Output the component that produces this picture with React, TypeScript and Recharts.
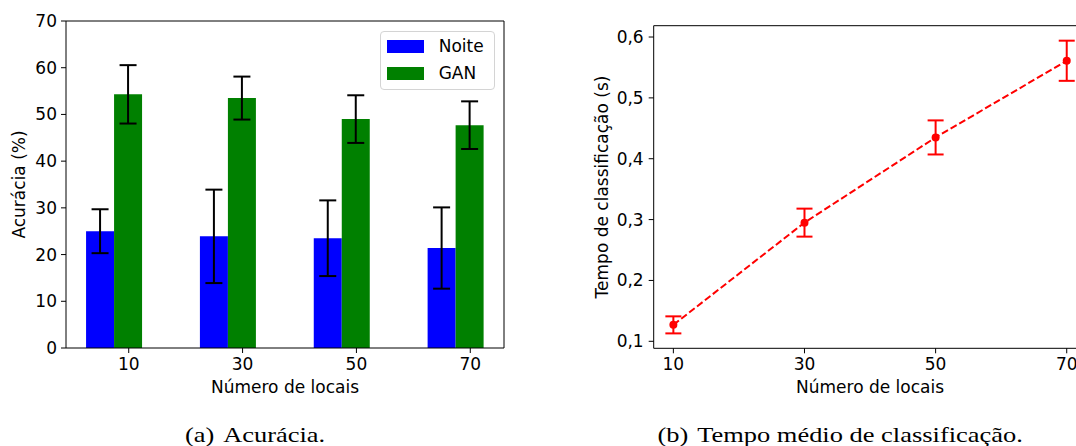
import React from 'react';
import {
  BarChart,
  Bar,
  XAxis,
  YAxis,
  ErrorBar,
  Legend,
  LineChart,
  Line,
  Label,
} from 'recharts';

// ---- data ----
const locais = [10, 30, 50, 70];
const seriesNames = ['Noite', 'GAN'];
const noite = [25.0, 23.9, 23.5, 21.4];
const noiteErr = [4.7, 10.0, 8.1, 8.7];
const gan = [54.3, 53.5, 49.0, 47.7];
const ganErr = [6.25, 4.6, 5.1, 5.1];
const tempo = [0.127, 0.295, 0.435, 0.561];
const tempoErr = [0.014, 0.023, 0.028, 0.033];
const accTicks = [0, 10, 20, 30, 40, 50, 60, 70];
const tempoTicks = [0.1, 0.2, 0.3, 0.4, 0.5, 0.6];

const accData = locais.map((l, i) => ({
  locais: l,
  noite: noite[i],
  noiteErr: noiteErr[i],
  gan: gan[i],
  ganErr: ganErr[i],
}));
const tempoData = locais.map((l, i) => ({ locais: l, tempo: tempo[i], tempoErr: tempoErr[i] }));

const BLUE = '#0000ff';
const GREEN = '#008000';
const RED = '#ff0000';
const FONT = '"DejaVu Sans", sans-serif';
const SERIF = '"Liberation Serif", "Times New Roman", serif';
const TICK_STYLE = { fill: '#000', fontSize: 17, fontFamily: FONT };
const HALF_BAR = 14.2;

const GanTick = (props: any) => {
  const { x, y, payload } = props;
  const cx = x + HALF_BAR;
  return (
    <g>
      <line x1={cx} x2={cx} y1={y - 10} y2={y - 5} stroke="#000" strokeWidth={1} />
      <text x={cx} y={y} dy="0.71em" textAnchor="middle" fill="#000" fontSize={17} fontFamily={FONT}>
        {payload.value}
      </text>
    </g>
  );
};

const renderLegend = (props: any) => {
  const items = [...(props.payload || [])].sort(
    (a: any, b: any) => seriesNames.indexOf(a.value) - seriesNames.indexOf(b.value)
  );
  return (
    <div
      style={{
        width: 115,
        height: 59,
        boxSizing: 'border-box',
        border: '1px solid #d4d4d4',
        borderRadius: 4,
        background: '#fff',
        padding: '1.5px 0 0 5.7px',
        fontFamily: FONT,
        fontSize: 17,
        color: '#000',
      }}
    >
      {items.map((it: any) => (
        <div key={it.value} style={{ display: 'flex', alignItems: 'center', height: 27 }}>
          <span style={{ display: 'inline-block', width: 37, height: 13, background: it.color }} />
          <span style={{ marginLeft: 15, lineHeight: '17px' }}>{it.value}</span>
        </div>
      ))}
    </div>
  );
};

const fmtComma = (v: number) => v.toFixed(1).replace('.', ',');

const Caption = ({ x, tag, text }: { x: number; tag: string; text: string }) => (
  <g transform={`translate(${x},442.3) scale(1.26,1)`}>
    <text x={0} y={0} fontFamily={SERIF} fontSize={21} fill="#000">
      {tag}
      <tspan dx={7}>{text}</tspan>
    </text>
  </g>
);

export default function App() {
  return (
    <div
      style={{
        position: 'fixed',
        left: 0,
        top: 0,
        width: 1076,
        height: 446,
        overflow: 'hidden',
        background: '#fff',
      }}
    >
      <div style={{ position: 'absolute', left: 0, top: 0 }}>
        <BarChart
          width={520}
          height={446}
          data={accData}
          margin={{ top: 20, right: 15, left: 0, bottom: 48 }}
          barCategoryGap="25%"
          barGap={0}
          style={{ fontFamily: FONT }}
        >
          <XAxis
            dataKey="locais"
            height={50}
            padding={{ left: -8.4, right: -9 }}
            axisLine={{ stroke: '#000', strokeWidth: 1 }}
            tickLine={false}
            tickSize={5}
            tickMargin={5}
            tick={<GanTick />}
            interval={0}
          >
            <Label
              value="Número de locais"
              position="insideBottom"
              offset={5}
              style={{ fill: '#000', fontSize: 17, fontFamily: FONT }}
            />
          </XAxis>
          <XAxis
            xAxisId="top"
            dataKey="locais"
            orientation="top"
            height={1}
            tick={false}
            tickLine={false}
            axisLine={{ stroke: '#000', strokeWidth: 1 }}
          />
          <YAxis
            width={66}
            domain={[0, 70]}
            ticks={accTicks}
            interval={0}
            tick={TICK_STYLE}
            tickSize={5}
            tickMargin={4}
            axisLine={{ stroke: '#000', strokeWidth: 1 }}
            tickLine={{ stroke: '#000', strokeWidth: 1 }}
          >
            <Label
              value="Acurácia (%)"
              angle={-90}
              position="insideLeft"
              offset={19}
              style={{ textAnchor: 'middle', fill: '#000', fontSize: 17, fontFamily: FONT }}
            />
          </YAxis>
          <YAxis
            yAxisId="right"
            orientation="right"
            width={1}
            domain={[0, 70]}
            tick={false}
            tickLine={false}
            axisLine={{ stroke: '#000', strokeWidth: 1 }}
          />
          <Legend
            layout="vertical"
            align="center"
            verticalAlign="middle"
            content={renderLegend}
            wrapperStyle={{ left: 380, top: 30.7, width: 115, height: 59 }}
          />
          <Bar dataKey="noite" name="Noite" fill={BLUE} isAnimationActive={false}>
            <ErrorBar dataKey="noiteErr" width={8.5} stroke="#000" strokeWidth={2} direction="y" />
          </Bar>
          <Bar dataKey="gan" name="GAN" fill={GREEN} isAnimationActive={false}>
            <ErrorBar dataKey="ganErr" width={8.5} stroke="#000" strokeWidth={2} direction="y" />
          </Bar>
        </BarChart>
      </div>

      <div style={{ position: 'absolute', left: 560, top: 0 }}>
        <LineChart
          width={540}
          height={446}
          data={tempoData}
          margin={{ top: 24.7, right: 12.6, left: 0, bottom: 47.7 }}
          style={{ fontFamily: FONT }}
        >
          <XAxis
            dataKey="locais"
            type="number"
            domain={[7, 73]}
            ticks={locais}
            interval={0}
            height={50}
            allowDataOverflow
            tick={TICK_STYLE}
            tickSize={5}
            tickMargin={5}
            axisLine={{ stroke: '#000', strokeWidth: 1 }}
            tickLine={{ stroke: '#000', strokeWidth: 1 }}
          >
            <Label
              value="Número de locais"
              position="insideBottom"
              offset={5}
              style={{ fill: '#000', fontSize: 17, fontFamily: FONT }}
            />
          </XAxis>
          <XAxis
            xAxisId="top"
            dataKey="locais"
            type="number"
            domain={[7, 73]}
            orientation="top"
            height={1}
            tick={false}
            tickLine={false}
            axisLine={{ stroke: '#000', strokeWidth: 1 }}
          />
          <YAxis
            width={93.7}
            domain={[0.0885, 0.6186]}
            allowDataOverflow
            ticks={tempoTicks}
            interval={0}
            tickFormatter={fmtComma}
            tick={TICK_STYLE}
            tickSize={5}
            tickMargin={5}
            axisLine={{ stroke: '#000', strokeWidth: 1 }}
            tickLine={{ stroke: '#000', strokeWidth: 1 }}
          >
            <Label
              value="Tempo de classificação (s)"
              angle={-90}
              position="insideLeft"
              offset={41.7}
              style={{ textAnchor: 'middle', fill: '#000', fontSize: 17, fontFamily: FONT }}
            />
          </YAxis>
          <YAxis
            yAxisId="right"
            orientation="right"
            width={1}
            domain={[0.0885, 0.6186]}
            tick={false}
            tickLine={false}
            axisLine={{ stroke: '#000', strokeWidth: 1 }}
          />
          <Line
            dataKey="tempo"
            stroke={RED}
            strokeWidth={2}
            strokeDasharray="7 3"
            dot={{ r: 4, fill: RED, stroke: RED, strokeWidth: 0 }}
            activeDot={false}
            isAnimationActive={false}
          >
            <ErrorBar dataKey="tempoErr" width={8} stroke={RED} strokeWidth={2} direction="y" />
          </Line>
        </LineChart>
      </div>

      <svg
        width={1076}
        height={446}
        style={{ position: 'absolute', left: 0, top: 0, pointerEvents: 'none' }}
      >
        <Caption x={185} tag="(a)" text="Acurácia." />
        <Caption x={657.5} tag="(b)" text="Tempo médio de classificação." />
      </svg>
    </div>
  );
}
